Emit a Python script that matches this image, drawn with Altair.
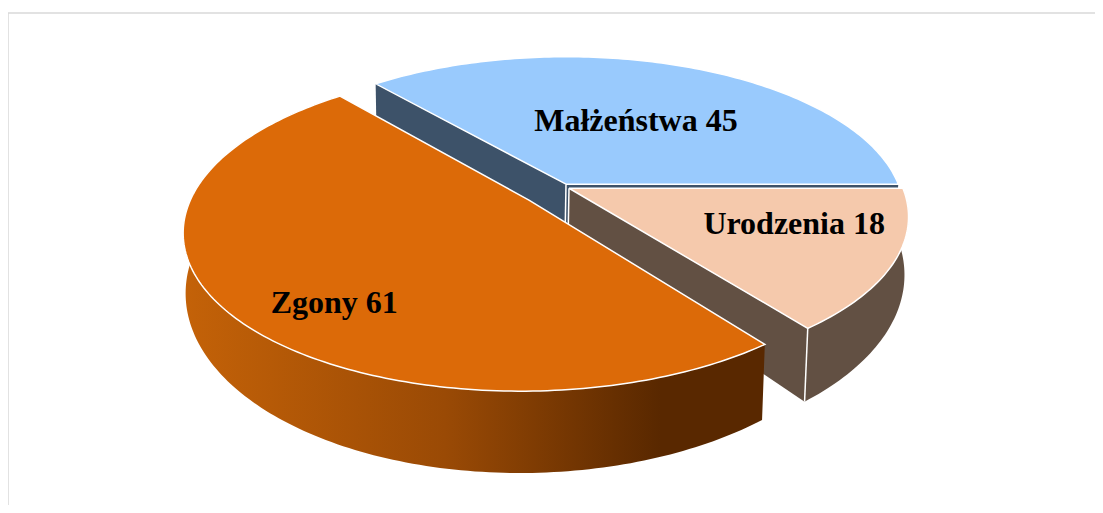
import math
import altair as alt
import pandas as pd

# ---- data ----
categories = ["Urodzenia", "Zgony", "Małżeństwa"]
values = [18, 61, 45]
top_colors = ["#F5C9AC", "#DC6A08", "#99CAFD"]

# ---- 3D look of the pie (perspective of the disc's top and bottom planes) ----
TOP_PLANE = dict(cx=567, cy=186, a=333, b=151)
BOTTOM_PLANE = dict(cx=566, cy=240, a=330, b=171.5)
K = 0.18
OFFSET = {"Urodzenia": (0.006, 0.015), "Zgony": None, "Małżeństwa": (-0.003, -0.012)}
EXPLODE_ZGONY = 0.145
LABEL_AT = {"Urodzenia": (19.25, 0.685), "Zgony": (130.4, 0.773), "Małżeństwa": (296.6, 0.508)}
LABEL_FONT = dict(font="Liberation Serif", fontWeight="bold", fontSize=32, color="#000000")


def project(u, v, bottom=False):
    w = 1 - K * v
    p = BOTTOM_PLANE if bottom else TOP_PLANE
    return p["cx"] + p["a"] * u / w, p["cy"] + p["b"] * v / w


total = sum(values)
slices = {}
start = 0.0
for name, val in zip(categories, values):
    sweep = val / total * 360
    mid = math.radians(start + sweep / 2)
    off = OFFSET[name] or (EXPLODE_ZGONY * math.cos(mid), EXPLODE_ZGONY * math.sin(mid))
    n = max(int(sweep), 2)
    rim = [
        (off[0] + math.cos(math.radians(start + sweep * i / n)),
         off[1] + math.sin(math.radians(start + sweep * i / n)))
        for i in range(n + 1)
    ]
    slices[name] = dict(off=off, rim=rim)
    start += sweep

X = alt.Scale(domain=[8, 1095], range=[0, 1087])
Y = alt.Scale(domain=[8, 505], range=[0, 497])


def path(points, **mark):
    df = pd.DataFrame({"x": [p[0] for p in points], "y": [p[1] for p in points],
                       "i": range(len(points))})
    return alt.Chart(df).mark_line(**mark).encode(
        x=alt.X("x:Q", scale=X, axis=None),
        y=alt.Y("y:Q", scale=Y, axis=None),
        order="i:Q",
    )


def top_outline(name):
    s = slices[name]
    return [project(*s["off"])] + [project(*p) for p in s["rim"]] + [project(*s["off"])]


def side_outline(name):
    s = slices[name]
    top = [project(*p) for p in s["rim"]]
    bot = [project(*p, bottom=True) for p in s["rim"]]
    return top + bot[::-1] + top[:1]


def wall(name, rim_point):
    s = slices[name]
    return [project(*s["off"]), project(*rim_point), project(*rim_point, bottom=True),
            project(*s["off"], bottom=True), project(*s["off"])]


def edge(name, point):
    return [project(*point), project(*point, bottom=True)]


SIDE_BLUE, SIDE_BROWN = "#3D5269", "#625043"
side_gradient = alt.LinearGradient(
    gradient="linear", x1=0, x2=1, y1=0, y2=0,
    stops=[alt.GradientStop(color="#C46208", offset=0),
           alt.GradientStop(color="#9A4A05", offset=0.45),
           alt.GradientStop(color="#592800", offset=0.82),
           alt.GradientStop(color="#592800", offset=1)],
)
WHITE = dict(stroke="#FFFFFF", strokeWidth=1.5)
NONE = dict(strokeWidth=0, stroke="transparent")

u = slices["Urodzenia"]
m = slices["Małżeństwa"]

layers = [
    # chart frame
    path([(8, 505), (8, 13), (1095, 13)], stroke="#D9D9D9", strokeWidth=1.5),
    # Małżeństwa walls and top
    path(wall("Małżeństwa", m["rim"][0]), fill=SIDE_BLUE, **NONE),
    path(wall("Małżeństwa", m["rim"][-1]), fill=SIDE_BLUE, **NONE),
    path(top_outline("Małżeństwa"), fill=top_colors[2], **WHITE),
    path(edge("Małżeństwa", m["off"]), **WHITE),
    # Urodzenia walls and top
    path(wall("Urodzenia", u["rim"][-1]), fill=SIDE_BROWN, **NONE),
    path(side_outline("Urodzenia"), fill=SIDE_BROWN, **NONE),
    path(top_outline("Urodzenia"), fill=top_colors[0], **WHITE),
    path(edge("Urodzenia", u["rim"][-1]), **WHITE),
    path(edge("Urodzenia", u["off"]), **WHITE),
    # Zgony side and top
    path(side_outline("Zgony"), fill=side_gradient, **NONE),
    path(top_outline("Zgony"), fill=top_colors[1], **WHITE),
]

rows = []
for name, val in zip(categories, values):
    ang, r = LABEL_AT[name]
    off = slices[name]["off"]
    px, py = project(off[0] + r * math.cos(math.radians(ang)),
                     off[1] + r * math.sin(math.radians(ang)))
    rows.append({"x": px, "y": py, "t": f"{name} {val}"})
labels = alt.Chart(pd.DataFrame(rows)).mark_text(
    align="center", baseline="middle", **LABEL_FONT
).encode(
    x=alt.X("x:Q", scale=X, axis=None),
    y=alt.Y("y:Q", scale=Y, axis=None),
    text="t:N",
)

chart = alt.layer(*layers, labels).properties(
    width=1087, height=497, padding=0,
    autosize=alt.AutoSizeParams(type="none"),
).configure_view(stroke=None)

chart.save("out.html", embed_options={"renderer": "svg", "actions": False})
